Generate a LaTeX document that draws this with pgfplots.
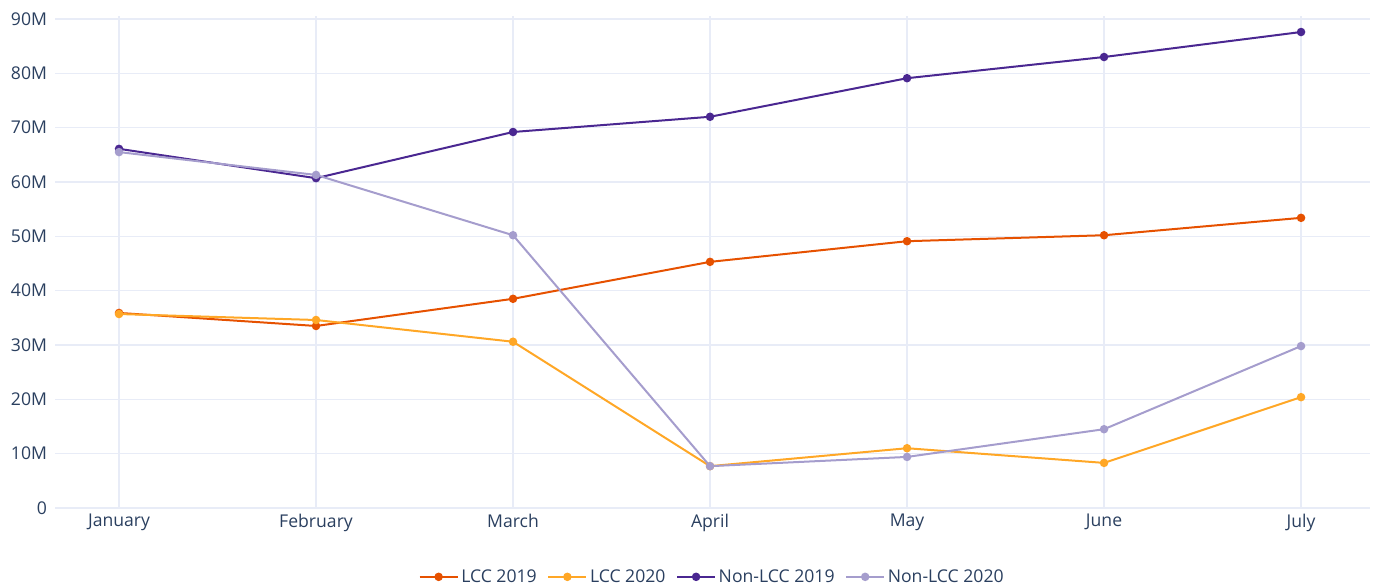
\documentclass[border=0pt]{standalone}
\usepackage{pgfplots}
\pgfplotsset{compat=1.18}
\usepackage{fontspec}
\setmainfont{Open Sans}
\definecolor{txt}{HTML}{2A3F5F}
\definecolor{grd}{HTML}{E8ECF7}
\definecolor{lccA}{HTML}{E65100}
\definecolor{lccB}{HTML}{FFA726}
\definecolor{nonA}{HTML}{4A2791}
\definecolor{nonB}{HTML}{A59DCD}
\begin{document}
\begin{tikzpicture}
\useasboundingbox (0,0) rectangle (1031.25pt,441pt);
\begin{axis}[
  at={(41.25pt,428.8pt)}, anchor=north west,
  scale only axis, width=986.25pt, height=368.8pt,
  xmin=-0.325, xmax=6.35, ymin=0, ymax=90.5,
  xtick={0,...,6},
  xticklabels={January,February,March,April,May,June,July},
  ytick={0,10,...,90},
  yticklabels={0,10M,20M,30M,40M,50M,60M,70M,80M,90M},
  grid=major, major grid style={grd, line width=1.1pt},
  axis line style={draw=none},
  tick style={draw=none},
  ticklabel style={font=\fontsize{13.2}{15}\selectfont, text=txt},
  yticklabel style={xshift=-2.5pt},
  xticklabel style={yshift=-1pt},
  legend style={at={(0.5,-0.14)}, anchor=center, draw=none, fill=none,
    legend columns=4, font=\fontsize{13.2}{15}\selectfont, text=txt,
    /tikz/every even column/.append style={column sep=6pt}},
  legend image code/.code={
    \draw[#1, mark repeat=2, mark phase=2] plot coordinates {(0cm,0cm) (0.5cm,0cm) (1.0cm,0cm)};},
  every axis plot/.append style={line width=1.5pt, mark=*, mark size=2.4pt},
  clip=false,
]
\addplot[draw=lccA, mark options={fill=lccA, draw=lccA}] coordinates {
(0,35.9) (1,33.5) (2,38.5) (3,45.3) (4,49.1) (5,50.2) (6,53.4)};
\addlegendentry{LCC 2019}
\addplot[draw=lccB, mark options={fill=lccB, draw=lccB}] coordinates {
(0,35.7) (1,34.6) (2,30.6) (3,7.7) (4,11.0) (5,8.3) (6,20.4)};
\addlegendentry{LCC 2020}
\addplot[draw=nonA, mark options={fill=nonA, draw=nonA}] coordinates {
(0,66.1) (1,60.7) (2,69.2) (3,72.0) (4,79.1) (5,83.0) (6,87.6)};
\addlegendentry{Non-LCC 2019}
\addplot[draw=nonB, mark options={fill=nonB, draw=nonB}] coordinates {
(0,65.5) (1,61.3) (2,50.2) (3,7.7) (4,9.4) (5,14.5) (6,29.8)};
\addlegendentry{Non-LCC 2020}
\end{axis}
\end{tikzpicture}
\end{document}
